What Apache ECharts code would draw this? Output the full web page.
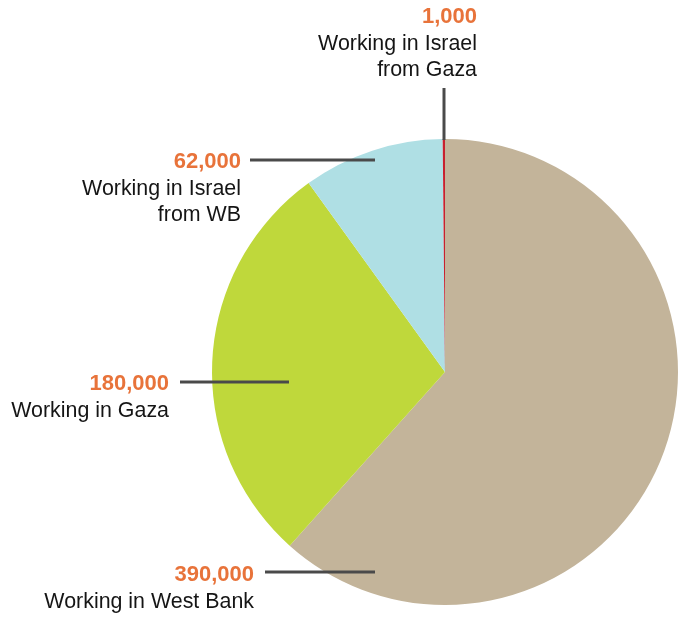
<!DOCTYPE html>
<html>
<head>
<meta charset="utf-8">
<style>
  html, body { margin: 0; padding: 0; background: #ffffff; }
  #chart { width: 678px; height: 617px; }
</style>
<script src="https://cdn.jsdelivr.net/npm/echarts@6/dist/echarts.min.js"></script>
</head>
<body>
<div id="chart"></div>
<script>
// Employment of Palestinian workers by place of work
const categories = [
  'Working in West Bank',
  'Working in Gaza',
  'Working in Israel\nfrom WB',
  'Working in Israel\nfrom Gaza'
];
const workers = [390000, 180000, 62000, 1000];
const sliceColors = ['#c3b49a', '#bfd83b', '#afdfe4', '#c8202f'];

// Where each label block sits (right edge, centre of the value line)
// and where its leader line runs.
const labelAnchors = [
  { x: 254, y: 575, line: [[265, 572], [320, 572], [375, 572]] },
  { x: 169, y: 384, line: [[180, 382], [235, 382], [289, 382]] },
  { x: 241, y: 162, line: [[250, 160], [312, 160], [375, 160]] },
  { x: 477, y: 17,  line: [[444, 88], [444, 114], [444, 140]] }
];

const FONT = '"Liberation Sans", Arial, Helvetica, sans-serif';
const PIE_CENTER = [445, 372];
const PIE_RADIUS = [0, 233];

const chart = echarts.init(document.getElementById('chart'), null, { renderer: 'canvas' });

chart.setOption({
  animation: false,
  backgroundColor: '#ffffff',
  series: [
    {
      // coloured slices
      type: 'pie',
      z: 2,
      center: PIE_CENTER,
      radius: PIE_RADIUS,
      startAngle: 90,
      clockwise: true,
      silent: true,
      emphasis: { disabled: true },
      label: { show: false },
      labelLine: { show: false },
      data: categories.map((name, i) => ({
        name: name,
        value: workers[i],
        itemStyle: { color: sliceColors[i] }
      }))
    },
    {
      // same slices, transparent, carrying the labels and leader lines on top
      type: 'pie',
      z: 5,
      center: PIE_CENTER,
      radius: PIE_RADIUS,
      startAngle: 90,
      clockwise: true,
      avoidLabelOverlap: false,
      silent: true,
      emphasis: { disabled: true },
      data: categories.map((name, i) => ({
        name: name,
        value: workers[i],
        itemStyle: { color: 'rgba(0,0,0,0)' }
      })),
      label: {
        show: true,
        position: 'outside',
        align: 'right',
        fontFamily: FONT,
        formatter: (p) => {
          const lines = p.name.split('\n').map(s => '{n|' + s + '}');
          return '{v|' + echarts.format.addCommas(p.value) + '}\n' + lines.join('\n');
        },
        rich: {
          v: { fontFamily: FONT, fontSize: 22, fontWeight: 'bold', color: '#e8733a', lineHeight: 28, align: 'right' },
          n: { fontFamily: FONT, fontSize: 21.4, color: '#151515', lineHeight: 26, align: 'right' }
        }
      },
      labelLine: {
        show: true,
        smooth: false,
        lineStyle: { color: '#4a4a4a', width: 3 }
      },
      labelLayout: (params) => {
        const a = labelAnchors[params.dataIndex];
        return {
          x: a.x,
          y: a.y - 14,
          align: 'right',
          verticalAlign: 'top',
          labelLinePoints: a.line
        };
      }
    }
  ]
});
</script>
</body>
</html>
